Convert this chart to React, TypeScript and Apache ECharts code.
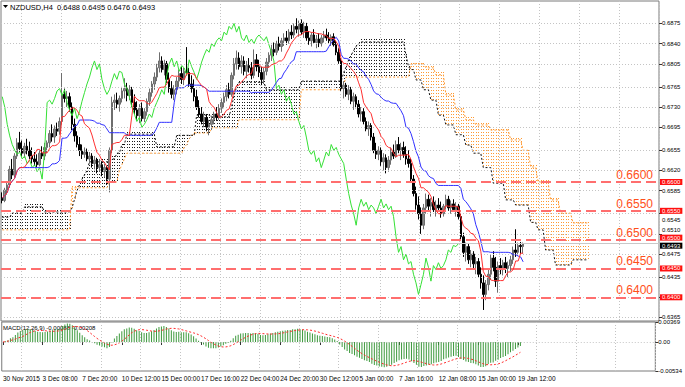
import React, { useEffect, useRef } from "react";
import * as echarts from "echarts";

// ---- time-axis labels (every 16 bars) ----
const tickLabels = [
  "30 Nov 2015", "3 Dec 08:00", "7 Dec 20:00", "10 Dec 12:00", "15 Dec 00:00",
  "17 Dec 16:00", "22 Dec 04:00", "24 Dec 20:00", "30 Dec 12:00", "5 Jan 00:00",
  "7 Jan 16:00", "12 Jan 08:00", "15 Jan 00:00", "19 Jan 12:00",
];
// price-scale grid values; the label under the 0.6400 tag is covered in the reference
const yGridValues = [0.6365, 0.64, 0.6435, 0.6475, 0.651, 0.6545, 0.6585, 0.662, 0.6655, 0.6695, 0.673, 0.6765, 0.6805, 0.684, 0.6875];
const yLabelValues = [0.6365, 0.6435, 0.6475, 0.651, 0.6545, 0.6585, 0.662, 0.6655, 0.6695, 0.673, 0.6765, 0.6805, 0.684, 0.6875];
const levels = [0.66, 0.655, 0.65, 0.645, 0.64];
const macdTicks = [-0.00534, 0, 0.00369];

// ---- NZDUSD H4 prices, in pips (x 0.0001) ----
const opens = [
  6572,6568,6586,6595,6622,6612,6645,6668,6658,6650, 6662,6655,6645,6640,6635,6630,6650,6645,6660,6668,
  6684,6678,6692,6688,6705,6752,6745,6748,6730,6700, 6680,6665,6655,6648,6652,6640,6645,6632,6638,6625,
  6630,6618,6625,6605,6655,6738,6742,6735,6745,6758, 6762,6750,6760,6738,6725,6715,6728,6710,6722,6740,
  6755,6770,6782,6798,6810,6795,6805,6778,6762,6752, 6760,6775,6788,6778,6792,6790,6770,6762,6748,6730,
  6718,6705,6712,6695,6700,6708,6718,6712,6728,6738, 6748,6760,6752,6785,6805,6815,6800,6810,6792,6802,
  6798,6785,6812,6800,6790,6778,6792,6808,6820,6830, 6825,6840,6835,6845,6850,6845,6860,6855,6870,6865,
  6875,6860,6870,6850,6845,6855,6842,6848,6840,6850, 6855,6850,6845,6852,6838,6825,6810,6762,6768,6752,
  6760,6740,6748,6735,6718,6722,6705,6692,6698,6678, 6655,6648,6655,6635,6642,6625,6638,6652,6645,6665,
  6655,6660,6648,6640,6632,6605,6580,6560,6545,6525, 6555,6570,6558,6565,6552,6560,6555,6545,6558,6570,
  6555,6562,6552,6558,6540,6505,6478,6488,6465,6475, 6458,6462,6440,6425,6405,6422,6440,6468,6452,6428,
  6455,6448,6460,6450,6455,6465,6482,6478,6490,6488,
];
const highs = [
  6582,6590,6600,6628,6640,6650,6676,6687,6672,6668, 6675,6670,6660,6652,6648,6655,6662,6668,6672,6690,
  6700,6698,6703,6712,6789,6762,6758,6755,6738,6710, 6688,6678,6665,6660,6658,6652,6650,6645,6642,6640,
  6636,6632,6628,6660,6748,6752,6755,6750,6765,6780, 6772,6768,6765,6752,6740,6735,6738,6728,6745,6762,
  6775,6790,6805,6825,6818,6812,6810,6790,6775,6768, 6782,6795,6800,6798,6834,6798,6785,6778,6760,6742,
  6730,6722,6718,6708,6715,6722,6730,6735,6745,6755, 6768,6772,6790,6815,6828,6825,6820,6818,6810,6815,
  6808,6830,6822,6812,6800,6798,6815,6825,6838,6842, 6845,6852,6850,6858,6862,6865,6872,6875,6884,6880,
  6882,6878,6876,6862,6860,6865,6855,6858,6855,6862, 6866,6860,6856,6858,6845,6832,6815,6775,6772,6768,
  6765,6755,6752,6742,6730,6728,6712,6705,6702,6685, 6668,6662,6660,6650,6648,6645,6660,6665,6672,6678,
  6668,6670,6662,6655,6640,6612,6592,6575,6556,6562, 6580,6578,6572,6575,6568,6572,6566,6562,6578,6576,
  6568,6570,6565,6562,6545,6512,6495,6494,6482,6480, 6470,6468,6452,6438,6430,6448,6475,6480,6470,6462,
  6468,6465,6470,6462,6472,6488,6518,6495,6496,6495,
];
const lows = [
  6563,6565,6578,6590,6605,6608,6640,6652,6644,6642, 6648,6640,6632,6628,6626,6627,6640,6638,6650,6660,
  6670,6668,6680,6682,6700,6738,6730,6722,6690,6670, 6660,6645,6640,6642,6636,6632,6625,6622,6615,6618,
  6610,6608,6595,6582,6650,6725,6728,6722,6738,6745, 6740,6742,6730,6718,6708,6702,6705,6704,6715,6732,
  6748,6760,6775,6790,6790,6785,6772,6755,6745,6742, 6752,6765,6770,6768,6785,6765,6755,6740,6725,6712,
  6700,6695,6688,6681,6690,6700,6706,6708,6720,6728, 6740,6745,6748,6778,6795,6795,6788,6785,6780,6790,
  6778,6780,6792,6782,6768,6770,6785,6798,6810,6818, 6820,6828,6826,6836,6838,6840,6848,6850,6858,6852,
  6855,6850,6845,6838,6835,6840,6832,6834,6835,6842, 6845,6840,6836,6835,6820,6805,6758,6745,6748,6742,
  6735,6725,6728,6712,6705,6700,6688,6680,6672,6650, 6640,6638,6628,6620,6615,6618,6630,6640,6642,6650,
  6638,6642,6630,6625,6600,6575,6552,6535,6510,6518, 6545,6550,6540,6548,6540,6548,6538,6540,6552,6550,
  6545,6548,6540,6535,6500,6470,6462,6458,6452,6450, 6440,6435,6415,6378,6395,6412,6430,6445,6418,6408,
  6440,6438,6442,6435,6445,6458,6470,6472,6475,6476,
];
const closes = [
  6568,6586,6595,6622,6612,6645,6668,6658,6650,6662, 6655,6645,6640,6635,6630,6650,6645,6660,6668,6684,
  6678,6692,6688,6705,6752,6745,6748,6730,6700,6680, 6665,6655,6648,6652,6640,6645,6632,6638,6625,6630,
  6618,6625,6605,6655,6738,6742,6735,6745,6758,6762, 6750,6760,6738,6725,6715,6728,6710,6722,6740,6755,
  6770,6782,6798,6810,6795,6805,6778,6762,6752,6760, 6775,6788,6778,6792,6790,6770,6762,6748,6730,6718,
  6705,6712,6695,6700,6708,6718,6712,6728,6738,6748, 6760,6752,6785,6805,6815,6800,6810,6792,6802,6798,
  6785,6812,6800,6790,6778,6792,6808,6820,6830,6825, 6840,6835,6845,6850,6845,6860,6855,6870,6865,6875,
  6860,6870,6850,6845,6855,6842,6848,6840,6850,6855, 6850,6845,6852,6838,6825,6810,6762,6768,6752,6760,
  6740,6748,6735,6718,6722,6705,6692,6698,6678,6655, 6648,6655,6635,6642,6625,6638,6652,6645,6665,6655,
  6660,6648,6640,6632,6605,6580,6560,6545,6525,6555, 6570,6558,6565,6552,6560,6555,6545,6558,6570,6555,
  6562,6552,6558,6540,6505,6478,6488,6465,6475,6458, 6462,6440,6425,6405,6422,6440,6468,6452,6428,6455,
  6448,6460,6450,6455,6465,6482,6478,6490,6488,6493,
];

// ---- Ichimoku Senkou spans (already shifted 26 bars ahead), run-length: [pips, bars] ----
const spanARuns = [
  [6517,28],[6590,15],[6600,4],[6620,1],[6630,1],[6640,1],[6650,23],[6660,1],[6665,1],[6675,1],[6680,1],
  [6685,7],[6694,11],[6708,25],[6760,17],[6770,1],[6782,26],
  [6805,6],[6798,4],[6786,4],[6751,4],[6725,4],[6708,4],[6699,6],[6690,8],[6673,5],[6655,3],[6626,3],
  [6600,5],[6569,4],[6546,5],[6529,7],
];
const spanBRuns = [
  [6539,4],[6546,5],[6557,8],[6548,11],[6555,1],[6570,1],[6585,1],[6595,1],[6605,1],[6612,1],[6620,1],
  [6635,9],[6640,2],[6650,2],[6665,2],[6683,12],[6661,8],[6681,8],[6716,6],[6713,8],[6730,1],[6750,1],
  [6765,1],[6773,11],[6760,14],[6775,17],[6790,1],[6800,1],[6812,1],[6820,1],[6828,1],[6835,1],[6840,1],
  [6843,18],[6820,1],[6800,1],
  [6795,2],[6777,3],[6760,3],[6742,3],[6716,3],[6699,4],[6682,4],[6664,3],[6650,4],[6625,4],[6598,5],
  [6569,4],[6560,6],[6530,3],[6517,3],[6482,4],[6456,7],[6465,7],
];

const SLOTS = 264;
const SHIFT = 26;
const FONT = "Liberation Sans, Arial, sans-serif";

function expand(runs: number[][]): number[] {
  const out: number[] = [];
  for (const [v, n] of runs) for (let k = 0; k < n; k++) out.push(v);
  return out;
}
const px = (v: number) => v / 10000;

function midline(period: number): number[] {
  return closes.map((_, i) => {
    let hh = -Infinity, ll = Infinity;
    for (let j = Math.max(0, i - period + 1); j <= i; j++) {
      hh = Math.max(hh, highs[j]);
      ll = Math.min(ll, lows[j]);
    }
    return px((hh + ll) / 2);
  });
}
function ema(arr: number[], p: number): number[] {
  const k = 2 / (p + 1);
  const out: number[] = [];
  let e = arr[0];
  arr.forEach((v, i) => {
    e = i === 0 ? v : v * k + e * (1 - k);
    out.push(e);
  });
  return out;
}

export default function App() {
  const ref = useRef<HTMLDivElement>(null);
  useEffect(() => {
    const chart = echarts.init(ref.current!, null, { renderer: "svg" });
    const n = closes.length;
    const cats = Array.from({ length: SLOTS }, (_, i) => String(i));
    const pad = (arr: any[]) => cats.map((_, i) => (i < arr.length ? arr[i] : "-"));
    const blank = cats.map(() => "-");

    const candles = closes.map((c, i) => [px(opens[i]), px(c), px(lows[i]), px(highs[i])]);
    const tenkan = midline(9);
    const kijun = midline(26);
    const chikou = cats.map((_, i) => (i + SHIFT < n ? px(closes[i + SHIFT]) : "-"));
    const spanA = expand(spanARuns).map(px);
    const spanB = expand(spanBRuns).map(px);
    const cloud = spanA.map((a, i) => [i, a, spanB[i]]);

    const cp = closes.map(px);
    const e12 = ema(cp, 12), e26 = ema(cp, 26);
    const macd = cp.map((_, i) => e12[i] - e26[i]);
    const signal = macd.map((_, i) => {
      const s = Math.max(0, i - 8);
      let sum = 0;
      for (let j = s; j <= i; j++) sum += macd[j];
      return sum / (i - s + 1);
    });

    const last = closes.length - 1;
    const bid = px(closes[last]);
    const header = `NZDUSD,H4  ${px(opens[last]).toFixed(4)} ${px(highs[last]).toFixed(4)} ${px(lows[last]).toFixed(4)} ${bid.toFixed(4)}`;

    const gridLine = { color: "#c4c4c4", type: [1, 2] as any, width: 1 };
    const isLabelIdx = (idx: number) => idx % 16 === 0 && idx / 16 < tickLabels.length;
    const isVGrid = (idx: number) => (idx - 8) % 16 === 0;
    const fmt4 = (p: any) => Number(p.value).toFixed(4);
    // price-scale labels crowded by a level tag are nudged clear of it
    const tagAbove = (v: number) => levels.some((l) => l > v + 1e-9 && l - v < 0.0011);
    const tagBelow = (v: number) => levels.some((l) => l < v - 1e-9 && v - l < 0.0011);

    const option: any = {
      animation: false,
      backgroundColor: "#ffffff",
      textStyle: { fontFamily: FONT },
      grid: [
        { left: 1, top: 1, width: 658, height: 320, show: true, borderColor: "#7a7a7a", borderWidth: 1 },
        { left: 1, top: 322, width: 658, height: 49, show: true, borderColor: "#7a7a7a", borderWidth: 1 },
      ],
      xAxis: [
        {
          type: "category", gridIndex: 0, data: cats, boundaryGap: true,
          axisLine: { show: false }, axisTick: { show: false }, axisLabel: { show: false },
          splitLine: { show: true, interval: (i: number) => isVGrid(i), lineStyle: gridLine },
        },
        {
          type: "category", gridIndex: 1, data: cats, boundaryGap: true,
          axisLine: { show: false },
          axisTick: { show: true, alignWithLabel: true, interval: (i: number) => isLabelIdx(i), length: 3, lineStyle: { color: "#333" } },
          axisLabel: {
            show: true, interval: (i: number) => isLabelIdx(i), align: "left", margin: 4,
            fontSize: 6.5, color: "#000", fontFamily: FONT,
            formatter: (_v: string, i: number) => tickLabels[Math.round(i / 16)] ?? "",
          },
          splitLine: { show: true, interval: (i: number) => isVGrid(i), lineStyle: gridLine },
        },
      ],
      yAxis: [
        {
          type: "value", gridIndex: 0, position: "right", min: 0.635889, max: 0.691397,
          axisLine: { show: false },
          splitLine: { show: false },
          axisTick: { show: true, customValues: yGridValues, length: 3, lineStyle: { color: "#333" } },
          axisLabel: {
            show: true, customValues: yLabelValues, margin: 3, fontSize: 6, color: "#000", fontFamily: FONT,
            formatter: (v: number) => {
              const s = v.toFixed(4);
              if (tagAbove(v)) return `{dn|${s}}`;
              if (tagBelow(v)) return `{up|${s}}`;
              return s;
            },
            rich: {
              dn: { fontSize: 6, padding: [12, 0, 0, 0], fontFamily: FONT, color: "#000" },
              up: { fontSize: 6, padding: [0, 0, 7, 0], fontFamily: FONT, color: "#000" },
            },
          },
        },
        {
          type: "value", gridIndex: 1, position: "right", min: -0.00534, max: 0.00369,
          axisLine: { show: false }, splitLine: { show: false },
          axisTick: { show: true, customValues: macdTicks, length: 3, lineStyle: { color: "#333" } },
          axisLabel: {
            show: true, customValues: macdTicks, margin: 3, fontSize: 6, color: "#000", fontFamily: FONT,
            formatter: (v: number) => (v === 0 ? "0.00" : v.toFixed(5)),
          },
        },
      ],
      series: [
        {
          type: "line", xAxisIndex: 0, yAxisIndex: 0, data: blank, silent: true, z: 0, showSymbol: false,
          markLine: {
            silent: true, symbol: "none", precision: 6, label: { show: false }, lineStyle: gridLine,
            data: yGridValues.map((v) => ({ yAxis: v })),
          },
        },
        {
          type: "custom", xAxisIndex: 0, yAxisIndex: 0, silent: true, z: 1, clip: true,
          data: cloud,
          encode: { x: 0, y: [1, 2] },
          renderItem: (_p: any, api: any) => {
            const i = api.value(0), a = api.value(1), b = api.value(2);
            const p1 = api.coord([i, a]);
            const p2 = api.coord([i, b]);
            const x = Math.round(p1[0]) + 0.5;
            const yTop = Math.floor(Math.min(p1[1], p2[1]) / 3) * 3;
            const yBot = Math.max(p1[1], p2[1]);
            return {
              type: "line",
              shape: { x1: x, y1: yTop, x2: x, y2: yBot },
              style: { stroke: a > b ? "#ff9a33" : "#1a1a1a", lineWidth: 1, lineDash: [1, 2] },
            };
          },
        },
        {
          type: "line", xAxisIndex: 0, yAxisIndex: 0, data: pad(spanA), showSymbol: false, silent: true, z: 2,
          lineStyle: { color: "#ff9a33", width: 1, type: [2, 2] },
        },
        {
          type: "line", xAxisIndex: 0, yAxisIndex: 0, data: pad(spanB), showSymbol: false, silent: true, z: 2,
          lineStyle: { color: "#111111", width: 1, type: [2, 2] },
        },
        {
          type: "candlestick", xAxisIndex: 0, yAxisIndex: 0, data: candles, barWidth: 2, z: 3,
          itemStyle: { color: "#8a8a8a", color0: "#000000", borderColor: "#6e6e6e", borderColor0: "#000000", borderWidth: 1 },
        },
        {
          type: "line", xAxisIndex: 0, yAxisIndex: 0, data: chikou, showSymbol: false, silent: true, z: 4,
          lineStyle: { color: "#35e035", width: 1 },
        },
        {
          type: "line", xAxisIndex: 0, yAxisIndex: 0, data: pad(kijun), showSymbol: false, silent: true, z: 4,
          lineStyle: { color: "#3030ff", width: 1 },
        },
        {
          type: "line", xAxisIndex: 0, yAxisIndex: 0, data: pad(tenkan), showSymbol: false, silent: true, z: 5,
          lineStyle: { color: "#ff3030", width: 1 },
        },
        {
          type: "line", xAxisIndex: 0, yAxisIndex: 0, data: blank, silent: true, z: 6, showSymbol: false,
          markLine: {
            silent: true, symbol: "none", precision: 6,
            lineStyle: { color: "#c8c8c8", type: "solid", width: 1 },
            label: {
              show: true, position: "end", distance: 1, formatter: fmt4, offset: [0, 2],
              backgroundColor: "#000", color: "#fff", fontSize: 6, lineHeight: 6, padding: [0, 2, 0, 2], fontFamily: FONT,
            },
            data: [{ yAxis: bid }],
          },
        },
        {
          type: "line", xAxisIndex: 0, yAxisIndex: 0, data: blank, silent: true, z: 7, showSymbol: false,
          markLine: {
            silent: true, symbol: "none", precision: 6,
            lineStyle: { color: "#ff6e6e", type: [10, 5], width: 2 },
            label: {
              show: true, position: "insideEndTop", distance: [6, 1], formatter: fmt4,
              color: "#ff4f1a", fontSize: 12, fontFamily: FONT,
            },
            data: levels.map((v) => ({ yAxis: v })),
          },
        },
        {
          type: "line", xAxisIndex: 0, yAxisIndex: 0, data: blank, silent: true, z: 8, showSymbol: false,
          markLine: {
            silent: true, symbol: "none", precision: 6,
            lineStyle: { color: "rgba(0,0,0,0)", width: 1, type: "solid" },
            label: {
              show: true, position: "end", distance: 1, formatter: fmt4,
              backgroundColor: "#ff1010", color: "#ffffff", fontSize: 6, lineHeight: 6, padding: [0, 2, 0, 2], fontFamily: FONT,
            },
            data: levels.map((v) => ({
              yAxis: v,
              label: { offset: [0, Math.abs(v - bid) < 0.001 ? -2 : 0] },
            })),
          },
        },
        {
          type: "bar", xAxisIndex: 1, yAxisIndex: 1, data: pad(macd), barWidth: 1, silent: true, z: 2,
          itemStyle: { color: "#3d993d" },
          markLine: {
            silent: true, symbol: "none", precision: 6, label: { show: false },
            lineStyle: gridLine, data: [{ yAxis: 0 }],
          },
        },
        {
          type: "line", xAxisIndex: 1, yAxisIndex: 1, data: pad(signal), showSymbol: false, silent: true, z: 3,
          lineStyle: { color: "#ff2a2a", width: 1, type: [2, 2] },
        },
      ],
      graphic: [
        { type: "polygon", left: 3, top: 5, shape: { points: [[0, 0], [5, 0], [2.5, 3]] }, style: { fill: "#000" } },
        { type: "text", left: 10, top: 3, style: { text: header, fill: "#000", font: `7.5px ${FONT}` } },
        { type: "text", left: 3, top: 325, style: { text: "MACD(12,26,9) -0.00088 -0.00208", fill: "#000", font: `6px ${FONT}` } },
      ],
    };
    chart.setOption(option);
    return () => chart.dispose();
  }, []);
  return <div ref={ref} style={{ position: "fixed", left: 0, top: 0, width: 685, height: 387, background: "#fff" }} />;
}
